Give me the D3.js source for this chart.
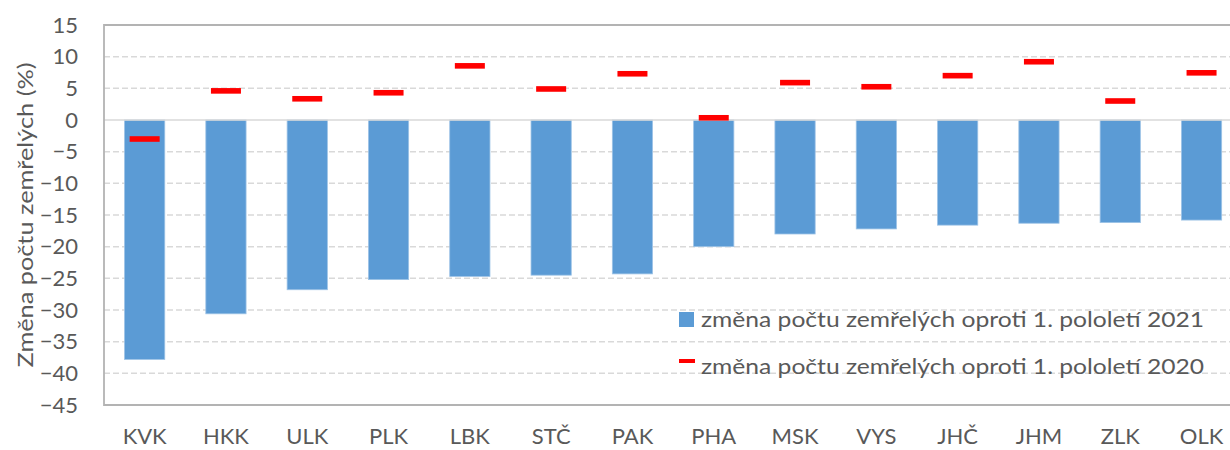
<html lang="cs">
<head>
<meta charset="utf-8">
<title>Změna počtu zemřelých</title>
<script src="https://cdn.jsdelivr.net/npm/d3@7"></script>
<style>
  body { margin: 0; background: #fff; }
  text { font-family: Lato, "Liberation Sans", Arial, sans-serif; fill: #595959; }
</style>
</head>
<body></body>
<script type="text/javascript">

// Data
var categories = ["KVK", "HKK", "ULK", "PLK", "LBK", "STČ", "PAK", "PHA", "MSK", "VYS", "JHČ", "JHM", "ZLK", "OLK"];
var change2021 = [-37.8, -30.6, -26.8, -25.2, -24.7, -24.5, -24.3, -20.0, -18.0, -17.2, -16.6, -16.3, -16.2, -15.8];
var change2020 = [-3.0, 4.6, 3.35, 4.3, 8.55, 4.9, 7.3, 0.35, 5.9, 5.25, 7.0, 9.2, 3.0, 7.45];
var yTicks = [15, 10, 5, 0, -5, -10, -15, -20, -25, -30, -35, -40, -45];
var legendLabels = ["změna počtu zemřelých oproti 1. pololetí 2021", "změna počtu zemřelých oproti 1. pololetí 2020"];

var width = 1230, height = 450;
var plotLeft = 104, plotTop = 25, plotBottom = 405;
var band = 81.3;
var font = "Lato, Liberation Sans, Arial, sans-serif";

var svg = d3.select("body").append("svg")
    .attr("width", width)
    .attr("height", height);

var x = d3.scaleBand()
    .domain(categories)
    .range([plotLeft, plotLeft + band * categories.length])
    .paddingInner(0.505)
    .paddingOuter(0.2525);

var y = d3.scaleLinear()
    .domain([-45, 15])
    .range([plotBottom, plotTop]);

// gridlines
svg.append("g").selectAll("line")
    .data(yTicks.filter(function(d){ return d != 0 && d != 15 && d != -45; }))
    .enter().append("line")
    .attr("x1", plotLeft).attr("x2", width)
    .attr("y1", function(d){ return y(d); })
    .attr("y2", function(d){ return y(d); })
    .attr("stroke", "#d9d9d9")
    .attr("stroke-width", 1.5)
    .attr("stroke-dasharray", "6,3");

// bars
svg.append("g").selectAll("rect")
    .data(categories)
    .enter().append("rect")
    .attr("x", function(d){ return x(d); })
    .attr("width", x.bandwidth())
    .attr("y", y(0))
    .attr("height", function(d, i){ return y(change2021[i]) - y(0); })
    .attr("fill", "#5b9bd5")
    .attr("stroke", "#9dc3e6")
    .attr("stroke-width", 0.8);

// zero line
svg.append("line")
    .attr("x1", plotLeft).attr("x2", width)
    .attr("y1", y(0)).attr("y2", y(0))
    .attr("stroke", "#d9d9d9")
    .attr("stroke-width", 1.5);

// 2020 markers
svg.append("g").selectAll("rect")
    .data(categories)
    .enter().append("rect")
    .attr("x", function(d){ return x(d) + x.bandwidth() / 2 - 15; })
    .attr("width", 30)
    .attr("y", function(d, i){ return y(change2020[i]) - 2.8; })
    .attr("height", 5.6)
    .attr("fill", "#ff0000");

// frame
svg.append("path")
    .attr("d", "M" + width + "," + plotTop + "H" + plotLeft + "V" + plotBottom + "H" + width)
    .attr("fill", "none")
    .attr("stroke", "#b3b3b3")
    .attr("stroke-width", 1.8);

// y axis
var yAxis = d3.axisLeft(y).tickValues(yTicks).tickSize(0).tickPadding(0);
var gy = svg.append("g")
    .attr("transform", "translate(" + 78 + ",0)")
    .call(yAxis);
gy.select(".domain").remove();
gy.selectAll("text")
    .attr("font-size", 22)
    .attr("fill", "#595959")
    .attr("font-family", font);

// x axis
var xAxis = d3.axisBottom(x).tickSize(0).tickPadding(0);
var gx = svg.append("g")
    .attr("transform", "translate(0," + 428 + ")")
    .call(xAxis);
gx.select(".domain").remove();
gx.selectAll("text")
    .attr("font-size", 22)
    .attr("fill", "#595959")
    .attr("font-family", font);

// y title
svg.append("text")
    .attr("transform", "translate(25,215) rotate(-90)")
    .attr("text-anchor", "middle")
    .attr("dy", "0.35em")
    .attr("font-size", 22)
    .attr("textLength", 305)
    .attr("lengthAdjust", "spacingAndGlyphs")
    .text("Změna počtu zemřelých (%)");

// legend
var legend = svg.append("g");
legend.append("rect")
    .attr("x", 679).attr("y", 312)
    .attr("width", 15).attr("height", 15)
    .attr("fill", "#5b9bd5");
legend.append("rect")
    .attr("x", 679).attr("y", 359)
    .attr("width", 16).attr("height", 4)
    .attr("fill", "#ff0000");
legend.selectAll("text")
    .data(legendLabels)
    .enter().append("text")
    .attr("x", 701)
    .attr("y", function(d, i){ return 327 + i * 47; })
    .attr("font-size", 21)
    .attr("textLength", 503)
    .attr("lengthAdjust", "spacingAndGlyphs")
    .text(function(d){ return d; });

</script>
</html>
